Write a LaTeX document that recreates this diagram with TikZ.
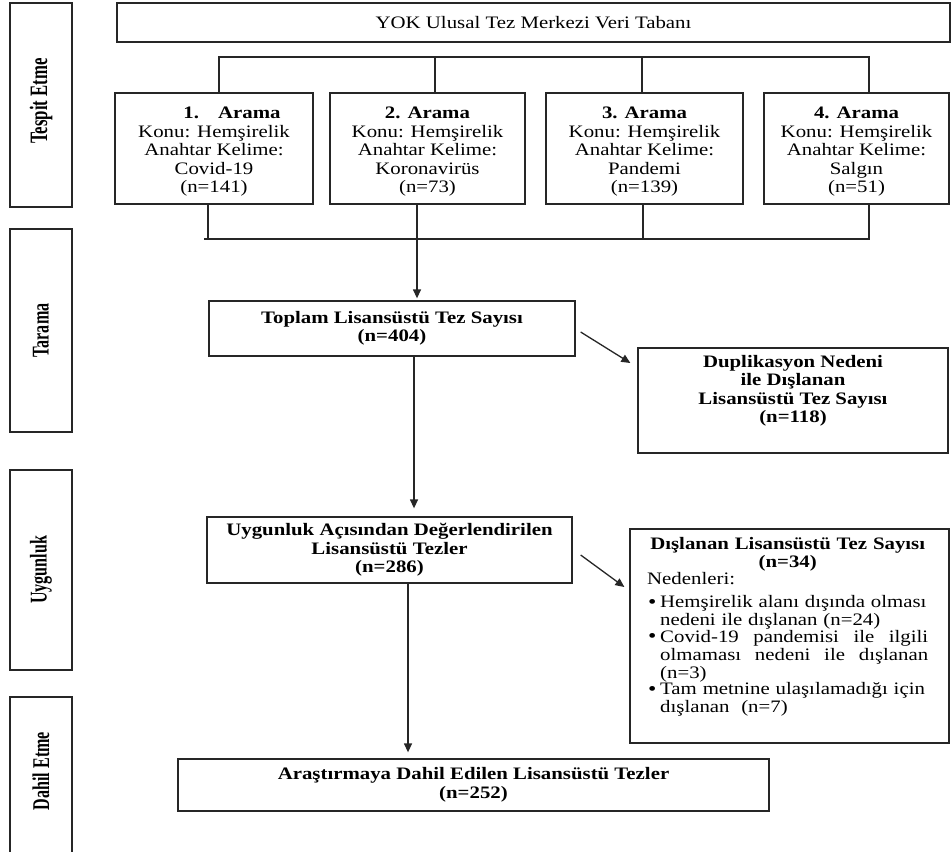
\documentclass[tikz,border=0pt]{standalone}
\usepackage{fontspec}
\setmainfont{Liberation Serif}[FakeStretch=1.19]
\newfontfamily\labfont{Liberation Serif}[FakeStretch=0.67]
\usetikzlibrary{arrows.meta,calc,shadows}
\newcommand{\mybullet}{\raisebox{-0.5pt}{\fontsize{20}{20}\selectfont\textbullet}}
\newcommand{\bitem}[1]{\noindent\makebox[13pt][l]{\hspace{1pt}\mybullet}\parbox[t]{268pt}{\raggedright #1}\par}
\newcommand{\firststrut}{\rule{0pt}{18pt}}
\tikzset{
  box/.style={draw=black!85, line width=1.3pt, inner sep=0pt, fill=white},
  shbox/.style={box, drop shadow={shadow xshift=1.3pt, shadow yshift=-1.3pt, fill=black!60}},
  labbox/.style={shbox, minimum width=62pt},
  labtext/.style={rotate=90, font=\labfont\bfseries\fontsize{24}{24}\selectfont, inner sep=0pt},
  txt/.style={font=\fontsize{17.5}{18.5}\selectfont, align=center, inner sep=0pt},
  btxt/.style={font=\bfseries\fontsize{17.5}{18.5}\selectfont, align=center, inner sep=0pt},
  sbox/.style={box, txt, minimum height=111pt},
  conn/.style={draw=black!85, line width=1.3pt},
  arr/.style={conn, -{Triangle[length=9pt,width=8pt]}},
}
\begin{document}
\begin{tikzpicture}[x=1pt,y=-1pt]
\useasboundingbox (0,0) rectangle (952,851);

% stage labels
\node[labbox, minimum height=204pt] (lab1) at (41,105) {};
\node[labtext, font=\labfont\bfseries\fontsize{25}{25}\selectfont] (lab1t) at (41,101) {Tespit Etme};
\node[labbox, minimum height=203pt] (lab2) at (41,330.5) {};
\node[labtext] (lab2t) at (lab2.center) {Tarama};
\node[labbox, minimum height=200pt] (lab3) at (41,570) {};
\node[labtext] (lab3t) at (lab3.center) {Uygunluk};
\node[labbox, minimum height=170pt] (lab4) at (41,782) {};
\node[labtext] (lab4t) at (41,771) {Dahil Etme};

% database
\node[shbox, txt, minimum width=833pt, minimum height=39pt] (yok) at (533.5,22.5) {YOK Ulusal Tez Merkezi Veri Tabanı};

% searches
\node[sbox, minimum width=198pt] (s1) at (214,148.5)
  {\firststrut\hspace*{36pt}\textbf{1.\hspace{1.1em}Arama}\\Konu: Hemşirelik\\Anahtar Kelime:\\Covid-19\\(n=141)};
\node[sbox, minimum width=195pt] (s2) at (427.5,148.5)
  {\firststrut\textbf{2. Arama}\\Konu: Hemşirelik\\Anahtar Kelime:\\Koronavirüs\\(n=73)};
\node[sbox, minimum width=197pt] (s3) at (644.5,148.5)
  {\firststrut\textbf{3. Arama}\\Konu: Hemşirelik\\Anahtar Kelime:\\Pandemi\\(n=139)};
\node[sbox, minimum width=185pt] (s4) at (856.5,148.5)
  {\firststrut\textbf{4. Arama}\\Konu: Hemşirelik\\Anahtar Kelime:\\Salgın\\(n=51)};

% top bus
\coordinate (tb1) at (219,57);
\coordinate (tb2) at (435,57);
\coordinate (tb3) at (642,57);
\coordinate (tb4) at (869,57);
\draw[conn] (s1.north -| tb1) -- (tb1) -- (tb4) -- (s4.north -| tb4);
\draw[conn] (tb2) -- (s2.north -| tb2);
\draw[conn] (tb3) -- (s3.north -| tb3);

% bottom bus
\coordinate (bb0) at (204,239);
\coordinate (bb1) at (208,239);
\coordinate (bb2) at (417,239);
\coordinate (bb3) at (643,239);
\coordinate (bb4) at (869,239);
\draw[conn] (bb0) -- (bb4) -- (s4.south -| bb4);
\draw[conn] (s1.south -| bb1) -- (bb1);
\draw[conn] (s2.south -| bb2) -- (bb2);
\draw[conn] (s3.south -| bb3) -- (bb3);

% screening
\node[box, btxt, minimum width=366pt, minimum height=55pt] (toplam) at (392,328.5)
  {Toplam Lisansüstü Tez Sayısı\\(n=404)};
\draw[arr, shorten >=2pt] (bb2) -- (toplam.north -| bb2);

\node[shbox, minimum width=310pt, minimum height=105pt] (dup) at (793,400.5) {};
\node[btxt] (duptxt) at (793,391) {Duplikasyon Nedeni\\ile Dışlanan\\Lisansüstü Tez Sayısı\\(n=118)};
\draw[arr] ($(toplam.east)+(5,3.5)$) -- ($(dup.west)+(-7,-37.5)$);

% eligibility
\node[box, btxt, minimum width=365pt, minimum height=66pt] (uyg) at (389.5,550)
  {Uygunluk Açısından Değerlendirilen\\Lisansüstü Tezler\\(n=286)};
\coordinate (c2) at (414,0);
\draw[arr, shorten >=8pt] (toplam.south -| c2) -- (uyg.north -| c2);

\node[shbox, minimum width=319pt, minimum height=214pt] (excl) at (789.5,636) {};
\node[anchor=north west, text width=281pt, inner sep=0pt, align=left,
      font=\fontsize{17.5}{17.8}\selectfont] (excltxt) at (647,537) {%
  {\centering\bfseries Dışlanan Lisansüstü Tez Sayısı\\(n=34)\par}
  Nedenleri:\par\vspace{5pt}
  \bitem{Hemşirelik alanı dışında olması\\nedeni ile dışlanan (n=24)}
  \bitem{Covid-19\hfill pandemisi\hfill ile\hfill ilgili\\olmaması\hfill nedeni\hfill ile\hfill dışlanan\\(n=3)}
  \bitem{Tam metnine ulaşılamadığı için\\dışlanan\ \ (n=7)}};
\draw[arr] ($(uyg.east)+(8,5)$) -- ($(excl.west)+(-5,-49)$);

% inclusion
\node[box, btxt, minimum width=591pt, minimum height=52pt] (ara) at (473.5,785)
  {Araştırmaya Dahil Edilen Lisansüstü Tezler\\(n=252)};
\coordinate (c3) at (408,0);
\draw[arr, shorten >=6pt] (uyg.south -| c3) -- (ara.north -| c3);
\end{tikzpicture}
\end{document}
